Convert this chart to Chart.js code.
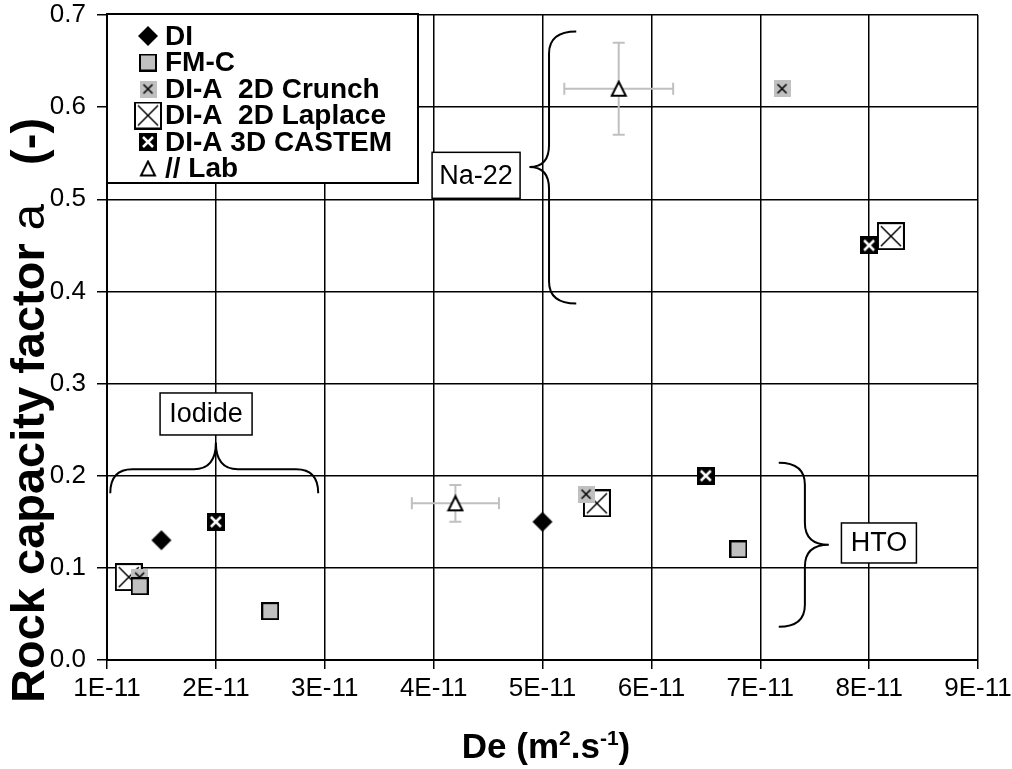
<!DOCTYPE html>
<html>
<head>
<meta charset="utf-8">
<script src="https://cdn.jsdelivr.net/npm/chart.js@4"></script>
<style>
  html, body { margin: 0; padding: 0; background: #fff; }
  #wrap { width: 1012px; height: 769px; }
</style>
</head>
<body>
<div id="wrap"><canvas id="chartCapacite" width="1012" height="769"></canvas></div>
<script>
// valeurs (De en m2/s, facteur a sans unite)
const xTicks = [1e-11, 2e-11, 3e-11, 4e-11, 5e-11, 6e-11, 7e-11, 8e-11, 9e-11];
const yTicks = [0.0, 0.1, 0.2, 0.3, 0.4, 0.5, 0.6, 0.7];

const serieNoms = ['DI', 'FM-C', 'DI-A  2D Crunch', 'DI-A  2D Laplace', 'DI-A 3D CASTEM', '// Lab'];

const diX = [1.5e-11, 5.0e-11];
const diY = [0.13, 0.15];
const fmcX = [1.3e-11, 2.5e-11, 6.8e-11];
const fmcY = [0.08, 0.053, 0.12];
const crunchX = [1.3e-11, 5.4e-11, 7.2e-11];
const crunchY = [0.09, 0.18, 0.62];
const laplaceX = [1.2e-11, 5.5e-11, 8.2e-11];
const laplaceY = [0.09, 0.17, 0.46];
const castemX = [2.0e-11, 6.5e-11, 8.0e-11];
const castemY = [0.15, 0.20, 0.45];
const labX = [1.3e-11, 4.2e-11, 5.7e-11];
const labY = [0.08, 0.17, 0.62];
const labXErr = [0, 0.4e-11, 0.5e-11];
const labYErr = [0, 0.02, 0.05];

const GRIS = '#c0c0c0';
const POLICE = '"Liberation Sans", Arial, sans-serif';

const toPoints = (xs, ys) => xs.map((x, i) => ({ x: x, y: ys[i] }));

// petits canvas pour les marqueurs
const marqueur = (taille, dessin) => {
    const c = document.createElement('canvas');
    c.width = taille;
    c.height = taille;
    dessin(c.getContext('2d'), taille);
    return c;
};

const mDI = marqueur(22, (g) => {
    g.fillStyle = '#000';
    g.beginPath();
    g.moveTo(11, 1); g.lineTo(21, 11); g.lineTo(11, 21); g.lineTo(1, 11);
    g.closePath();
    g.fill();
});
const mFMC = marqueur(18, (g) => {
    g.fillStyle = GRIS;
    g.fillRect(1, 1, 16, 16);
    g.strokeStyle = '#000';
    g.lineWidth = 2;
    g.strokeRect(1, 1, 16, 16);
});
const mCrunch = marqueur(17, (g) => {
    g.fillStyle = GRIS;
    g.fillRect(0, 0, 17, 17);
    g.strokeStyle = '#000';
    g.lineWidth = 1.6;
    g.beginPath();
    g.moveTo(4, 4); g.lineTo(13, 13);
    g.moveTo(13, 4); g.lineTo(4, 13);
    g.stroke();
});
const mLaplace = marqueur(28, (g) => {
    g.fillStyle = '#fff';
    g.fillRect(1, 1, 26, 26);
    g.strokeStyle = '#000';
    g.lineWidth = 2;
    g.strokeRect(1, 1, 26, 26);
    g.lineWidth = 1.5;
    g.beginPath();
    g.moveTo(4, 4); g.lineTo(24, 24);
    g.moveTo(24, 4); g.lineTo(4, 24);
    g.stroke();
});
const mCastem = marqueur(18, (g) => {
    g.fillStyle = '#000';
    g.fillRect(0, 0, 18, 18);
    g.strokeStyle = '#fff';
    g.lineWidth = 2.5;
    g.beginPath();
    g.moveTo(4, 4); g.lineTo(14, 14);
    g.moveTo(14, 4); g.lineTo(4, 14);
    g.stroke();
});
const mLab = marqueur(18, (g) => {
    g.fillStyle = '#fff';
    g.strokeStyle = '#000';
    g.lineWidth = 2;
    g.beginPath();
    g.moveTo(9, 2); g.lineTo(16, 16); g.lineTo(2, 16);
    g.closePath();
    g.fill();
    g.stroke();
});
const marqueurs = [mDI, mFMC, mCrunch, mLaplace, mCastem, mLab];

// accolade : a et b = extremites le long de l'axe, base = cote des extremites,
// dos = ligne du dos, pointe = sommet, c = position de la pointe le long de l'axe
const accolade = (ctx, vertical, a, b, base, dos, pointe, c) => {
    const P = (u, v) => vertical ? [v, u] : [u, v];
    const s = Math.sign(b - a);
    const r = 22 * s;
    ctx.beginPath();
    ctx.moveTo(...P(a, base));
    ctx.quadraticCurveTo(...P(a, dos), ...P(a + r, dos));
    ctx.lineTo(...P(c - r, dos));
    ctx.quadraticCurveTo(...P(c, dos), ...P(c, pointe));
    ctx.quadraticCurveTo(...P(c, dos), ...P(c + r, dos));
    ctx.lineTo(...P(b - r, dos));
    ctx.quadraticCurveTo(...P(b, dos), ...P(b, base));
    ctx.stroke();
};

const etiquette = (ctx, texte, cx, cy, w, h) => {
    ctx.fillStyle = '#fff';
    ctx.fillRect(cx - w / 2, cy - h / 2, w, h);
    ctx.strokeStyle = '#000';
    ctx.lineWidth = 1.5;
    ctx.strokeRect(cx - w / 2, cy - h / 2, w, h);
    ctx.fillStyle = '#000';
    ctx.font = '27px ' + POLICE;
    ctx.textAlign = 'center';
    ctx.textBaseline = 'middle';
    ctx.fillText(texte, cx, cy + 1);
};

const pluginDessins = {
    id: 'dessins',
    beforeDatasetsDraw(chart) {
        // barres d'erreur de la serie Lab
        const ctx = chart.ctx;
        const sx = chart.scales.x;
        const sy = chart.scales.y;
        ctx.save();
        ctx.strokeStyle = GRIS;
        ctx.lineWidth = 2;
        labX.forEach((x, i) => {
            const px = sx.getPixelForValue(x);
            const py = sy.getPixelForValue(labY[i]);
            if (labXErr[i] > 0) {
                const x1 = sx.getPixelForValue(x - labXErr[i]);
                const x2 = sx.getPixelForValue(x + labXErr[i]);
                ctx.beginPath();
                ctx.moveTo(x1, py); ctx.lineTo(x2, py);
                ctx.moveTo(x1, py - 6); ctx.lineTo(x1, py + 6);
                ctx.moveTo(x2, py - 6); ctx.lineTo(x2, py + 6);
                ctx.stroke();
            }
            if (labYErr[i] > 0) {
                const y1 = sy.getPixelForValue(labY[i] - labYErr[i]);
                const y2 = sy.getPixelForValue(labY[i] + labYErr[i]);
                ctx.beginPath();
                ctx.moveTo(px, y1); ctx.lineTo(px, y2);
                ctx.moveTo(px - 6, y1); ctx.lineTo(px + 6, y1);
                ctx.moveTo(px - 6, y2); ctx.lineTo(px + 6, y2);
                ctx.stroke();
            }
        });
        ctx.restore();
    },
    afterDatasetsDraw(chart) {
        const ctx = chart.ctx;
        const X = (v) => chart.scales.x.getPixelForValue(v);
        const Y = (v) => chart.scales.y.getPixelForValue(v);
        ctx.save();
        ctx.strokeStyle = '#000';
        ctx.lineWidth = 2;
        // Iodide
        accolade(ctx, false, X(1.03e-11), X(2.94e-11), Y(0.181), Y(0.207), Y(0.236), X(2.0e-11));
        // Na-22
        accolade(ctx, true, Y(0.682), Y(0.387), X(5.31e-11), X(5.06e-11), X(4.88e-11), Y(0.535));
        // HTO
        accolade(ctx, true, Y(0.214), Y(0.036), X(7.17e-11), X(7.41e-11), X(7.63e-11), Y(0.125));

        etiquette(ctx, 'Iodide', X(1.91e-11), Y(0.267), 92, 42);
        etiquette(ctx, 'Na-22', X(4.39e-11), Y(0.526), 88, 46);
        etiquette(ctx, 'HTO', X(8.09e-11), Y(0.127), 75, 40);
        ctx.restore();
    },
    afterDraw(chart) {
        const ctx = chart.ctx;
        ctx.save();

        // legende dans le graphe
        ctx.fillStyle = '#fff';
        ctx.fillRect(107, 14, 311, 169);
        ctx.strokeStyle = '#000';
        ctx.lineWidth = 2;
        ctx.strokeRect(107, 14, 311, 169);
        ctx.font = 'bold 28px ' + POLICE;
        ctx.textAlign = 'left';
        ctx.textBaseline = 'middle';
        ctx.fillStyle = '#000';
        serieNoms.forEach((nom, i) => {
            const yy = 36 + i * 26.5;
            const m = marqueurs[i];
            ctx.drawImage(m, 148 - m.width / 2, yy - m.height / 2);
            ctx.fillText(nom, 165, yy + 1);
        });

        // titre axe Y (texte vertical, morceaux de police differente)
        ctx.save();
        ctx.translate(44, 703);
        ctx.rotate(-Math.PI / 2);
        ctx.textBaseline = 'alphabetic';
        ctx.font = 'bold 47px ' + POLICE;
        const p1 = 'Rock capacity factor ';
        ctx.fillText(p1, 0, 0);
        let dx = ctx.measureText(p1).width;
        ctx.font = '47px ' + POLICE;
        ctx.fillText('a', dx, 0);
        dx += ctx.measureText('a').width;
        ctx.font = 'bold 47px ' + POLICE;
        ctx.fillText('   (-)', dx, 0);
        ctx.restore();

        // titre axe X avec exposants
        const morceaux = [
            ['De (m', 35, 0], ['2', 21, -13], ['.s', 35, 0], ['-1', 21, -13], [')', 35, 0]
        ];
        let total = 0;
        morceaux.forEach(([t, taille]) => {
            ctx.font = `bold ${taille}px ${POLICE}`;
            total += ctx.measureText(t).width;
        });
        let xx = 546 - total / 2;
        ctx.textBaseline = 'alphabetic';
        morceaux.forEach(([t, taille, dy]) => {
            ctx.font = `bold ${taille}px ${POLICE}`;
            ctx.fillText(t, xx, 758 + dy);
            xx += ctx.measureText(t).width;
        });

        ctx.restore();
    }
};

const canvas = document.getElementById('chartCapacite');
const context = canvas.getContext('2d');

const chartCapacite = new Chart(context, {
    type: 'scatter',
    data: {
        datasets: [
            { label: serieNoms[0], data: toPoints(diX, diY), pointStyle: mDI },
            { label: serieNoms[1], data: toPoints(fmcX, fmcY), pointStyle: mFMC },
            { label: serieNoms[2], data: toPoints(crunchX, crunchY), pointStyle: mCrunch },
            { label: serieNoms[3], data: toPoints(laplaceX, laplaceY), pointStyle: mLaplace },
            { label: serieNoms[4], data: toPoints(castemX, castemY), pointStyle: mCastem },
            { label: serieNoms[5], data: toPoints(labX, labY), pointStyle: mLab }
        ]
    },
    options: {
        responsive: false,
        animation: false,
        layout: { padding: { top: 15, right: 34, left: 0, bottom: 0 } },
        plugins: {
            legend: { display: false },
            tooltip: { enabled: false },
            title: { display: false }
        },
        scales: {
            x: {
                type: 'linear',
                min: xTicks[0],
                max: xTicks[xTicks.length - 1],
                afterBuildTicks: (scale) => { scale.ticks = xTicks.map(v => ({ value: v })); },
                afterFit: (scale) => {
                    scale.height = 109;
                    scale.paddingLeft = 0;
                    scale.paddingRight = 0;
                },
                ticks: {
                    color: '#000',
                    font: { family: POLICE, size: 26 },
                    padding: 4,
                    maxRotation: 0,
                    callback: (v) => Math.round(v / 1e-11) + 'E-11'
                },
                grid: { color: '#000', lineWidth: 1.5, tickLength: 9 },
                border: { color: '#000', width: 2 }
            },
            y: {
                type: 'linear',
                min: yTicks[0],
                max: yTicks[yTicks.length - 1],
                afterBuildTicks: (scale) => { scale.ticks = yTicks.map(v => ({ value: v })); },
                afterFit: (scale) => {
                    scale.width = 107;
                    scale.paddingTop = 0;
                    scale.paddingBottom = 0;
                },
                ticks: {
                    color: '#000',
                    font: { family: POLICE, size: 26 },
                    padding: 11,
                    callback: (v) => Number(v).toFixed(1)
                },
                grid: { color: '#000', lineWidth: 1.5, tickLength: 10 },
                border: { color: '#000', width: 2 }
            }
        }
    },
    plugins: [pluginDessins]
});
</script>
</body>
</html>
